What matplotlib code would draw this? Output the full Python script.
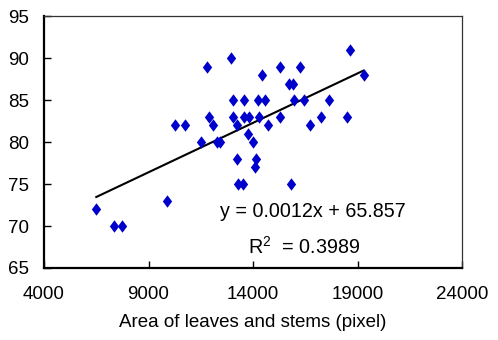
import numpy as np
import matplotlib.pyplot as plt
from matplotlib.path import Path

plt.rcParams['font.family'] = ['Liberation Sans', 'DejaVu Sans']
plt.rcParams['mathtext.fontset'] = 'custom'
plt.rcParams['mathtext.rm'] = 'Liberation Sans'
plt.rcParams['mathtext.it'] = 'Liberation Sans'

area = [6500, 7366, 7750, 9866,
        10265, 10731, 11534, 11789, 11900, 12063, 12270, 12429,
        12943, 13025, 13025, 13217, 13217, 13280, 13520,
        13582, 13582, 13823, 13775, 13987, 14145, 14111,
        14227, 14275, 14419, 14578, 14737,
        15300, 15300, 15746, 15910, 15938, 15828, 16260, 16419,
        16708, 17237, 17621, 18496, 18630, 19290]
value = [72, 70, 70, 73,
         82, 82, 80, 89, 83, 82, 80, 80,
         90, 85, 83, 82, 78, 75, 75,
         85, 83, 83, 81, 80, 78, 77,
         85, 83, 88, 85, 82,
         89, 83, 87, 87, 85, 75, 89, 85,
         82, 83, 85, 83, 91, 88]

eq_text = "y = 0.0012x + 65.857"
r2_text = r"R$^{2}$  = 0.3989"

x = np.array(area, dtype=float)
y = np.array(value, dtype=float)
slope, icpt = np.polyfit(x, y, 1)

# excel-style diamond, a bit taller than wide
diamond = Path([(0, 1), (0.75, 0), (0, -1), (-0.75, 0), (0, 1)],
               [Path.MOVETO, Path.LINETO, Path.LINETO, Path.LINETO, Path.CLOSEPOLY])

fig = plt.figure(figsize=(4.98, 3.40), dpi=100)
ax = fig.add_axes([0.0884, 0.2118, 0.8393, 0.7397])

ax.scatter(x, y, marker=diamond, s=80, color='#0000CC', linewidths=0, zorder=3)
xs = np.array([x.min(), x.max()])
ax.plot(xs, slope * xs + icpt, color='black', lw=1.5, zorder=2)

ax.set_xlim(4000, 24000)
ax.set_ylim(65, 95)
ax.set_xticks(np.arange(4000, 24001, 5000))
ax.set_yticks(np.arange(65, 96, 5))
ax.tick_params(direction='in', length=5, width=1, labelsize=13.5)
ax.tick_params(axis='y', pad=11)
ax.tick_params(axis='x', pad=13)

for s in ['left', 'bottom']:
    ax.spines[s].set_linewidth(1.6)
for s in ['top', 'right']:
    ax.spines[s].set_linewidth(0.9)
    ax.spines[s].set_color('#333333')

ax.set_xlabel("Area of leaves and stems (pixel)", fontsize=13.5, labelpad=8)

ax.text(16886, 71.7, eq_text, fontsize=14.2, ha='center', va='center')
ax.text(16450, 67.5, r2_text, fontsize=14.2, ha='center', va='center')

fig.savefig("out.png", dpi=100)
